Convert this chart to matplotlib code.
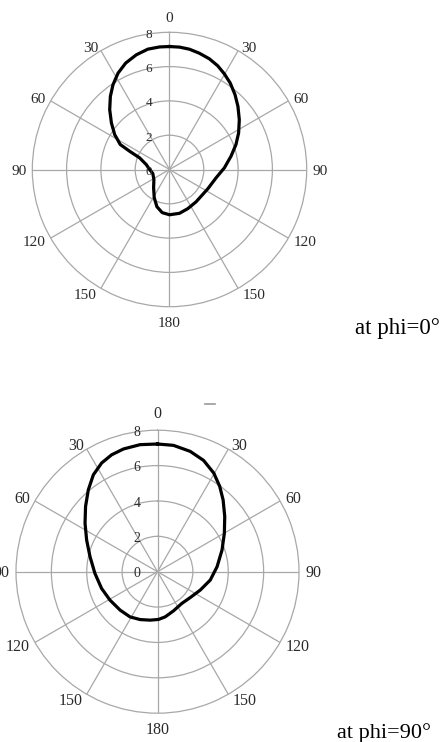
import numpy as np
import matplotlib
matplotlib.use("Agg")
import matplotlib.pyplot as plt
from matplotlib.transforms import offset_copy
from matplotlib.lines import Line2D

# ---------------- data ----------------
theta_ticks = [0, 30, 60, 90, 120, 150, 180, 210, 240, 270, 300, 330]
theta_labels = ["0", "30", "60", "90", "120", "150", "180", "150", "120", "90", "60", "30"]
r_ticks = [0, 2, 4, 6, 8]
r_labels = ["0", "2", "4", "6", "8"]

# pattern at phi = 0 deg  (theta in degrees, clockwise from top)
theta_phi0 = [0, 4.7, 9.4, 14.4, 19.8, 24.9, 29.8, 35.1, 41.2, 47.3, 54.5, 62.1, 69.4,
              77.8, 88.3, 100.1, 116.8, 140.5, 155.0, 167.2, 180.0, 189.6, 198.7, 208.4,
              221.1, 237.4, 256.5, 270.0, 282.1, 291.3, 294.6, 296.9, 302.5, 308.7,
              315.0, 321.0, 326.3, 331.9, 337.6, 343.8, 349.8, 355.4, 360.0]
r_phi0 = [7.17, 7.16, 7.11, 7.0, 6.86, 6.67, 6.43, 6.16, 5.8, 5.43, 5.0, 4.56, 4.14,
          3.67, 3.2, 2.76, 2.5, 2.44, 2.52, 2.62, 2.64, 2.55, 2.29, 1.87,
          1.41, 1.08, 1.0, 1.16, 1.39, 1.87, 2.56, 3.22, 3.79, 4.34,
          4.93, 5.48, 5.94, 6.37, 6.71, 6.96, 7.13, 7.17, 7.17]

# pattern at phi = 90 deg
theta_phi90 = [0, 7.2, 15.2, 22.5, 29.7, 36.1, 42.4, 50.6, 60.1, 71.4, 85.2, 99.0, 113.3,
               128.2, 142.5, 157.7, 170.3, 178.8, 188.6, 200.0, 211.3, 224.2, 239.1,
               253.3, 268.5, 282.6, 294.1, 303.8, 312.2, 319.8, 326.5, 332.8, 338.6,
               344.5, 352.2, 360.0]
r_phi90 = [7.22, 7.2, 7.05, 6.81, 6.42, 5.97, 5.5, 4.92, 4.36, 3.85, 3.38, 3.02, 2.63,
           2.36, 2.26, 2.39, 2.59, 2.7, 2.77, 2.88, 2.99, 3.03, 3.13,
           3.3, 3.54, 3.91, 4.39, 4.93, 5.49, 6.06, 6.57, 6.91, 7.1,
           7.2, 7.25, 7.22]

captions = ["at phi=0\u00b0", "at phi=90\u00b0"]

# ---------------- style ----------------
W, H, DPI = 441, 742, 100
GRID = "#a8a8a8"
LBL = "#2a2a2a"
SERIF = ["Liberation Serif", "DejaVu Serif"]

fig = plt.figure(figsize=(W / DPI, H / DPI), dpi=DPI)


def make_axes(cx, cy, R):
    rect = [(cx - R) / W, 1 - (cy + R) / H, 2 * R / W, 2 * R / H]
    ax = fig.add_axes(rect, projection="polar")
    ax.set_theta_zero_location("N")
    ax.set_theta_direction(-1)
    ax.set_ylim(0, 8)
    ax.set_thetagrids(theta_ticks, labels=[""] * len(theta_ticks))
    ax.set_rgrids([2, 4, 6], labels=["", "", ""])
    ax.grid(True, color=GRID, lw=0.9)
    ax.spines["polar"].set_color(GRID)
    ax.spines["polar"].set_linewidth(0.9)
    ax.tick_params(length=0)
    ax.set_facecolor("none")
    return ax


# per-angle label offsets (dx, dy) in pixels from the outer circle point, and alignment
label_specs = {
    0: ("center", 0, 10.5),
    30: ("left", 2.8, -1.0),
    60: ("left", 5.2, -2.4),
    90: ("left", 6.0, -5.3),
    120: ("left", 5.2, -8.4),
    150: ("left", 4.5, -10.5),
    180: ("center", 0, -20.5),
}


def decorate(ax, tick_size, r_size, top_gap):
    for ang, lab in zip(theta_ticks, theta_labels):
        a = ang if ang <= 180 else 360 - ang
        ha, dx, dy = label_specs[a]
        if a == 0:
            dy = top_gap
        if ang > 180:
            dx = -dx
            ha = "right"
        tr = offset_copy(ax.transData, fig=fig, x=dx, y=dy, units="dots")
        ax.text(np.deg2rad(ang), 8, lab, transform=tr, ha=ha, va="baseline",
                fontsize=tick_size, family=SERIF, color=LBL, clip_on=False)
    em = r_size * DPI / 72.0
    for rv, lab in zip(r_ticks, r_labels):
        tr = offset_copy(ax.transData, fig=fig, x=-20.5, y=-(0.338 * em) - 1.0,
                         units="dots")
        ax.text(0, rv, lab, transform=tr, ha="center", va="baseline",
                fontsize=r_size, family=SERIF, color=LBL, clip_on=False)


ax1 = make_axes(169.5, 169.5, 137.2)
ax1.plot(np.deg2rad(theta_phi0), r_phi0, color="black", lw=2.3,
         solid_joinstyle="round")
decorate(ax1, 11, 9.5, 10.6)

ax2 = make_axes(157.5, 571.7, 141.5)
ax2.plot(np.deg2rad(theta_phi90), r_phi90, color="black", lw=2.3,
         solid_joinstyle="round")
decorate(ax2, 11.5, 10, 12.0)

fig.text(355 / W, 1 - 334 / H, captions[0], ha="left", va="baseline",
         fontsize=16.5, family=SERIF, color="black")
fig.text(336.7 / W, 1 - 737.7 / H, captions[1], ha="left", va="baseline",
         fontsize=16, family=SERIF, color="black")

# small grey stroke above the lower chart
fig.add_artist(Line2D([205 / W, 215 / W], [1 - 403.5 / H, 1 - 403.5 / H],
                      color="#9a9a9a", lw=1.2, transform=fig.transFigure))

fig.savefig("out.png", dpi=DPI)
